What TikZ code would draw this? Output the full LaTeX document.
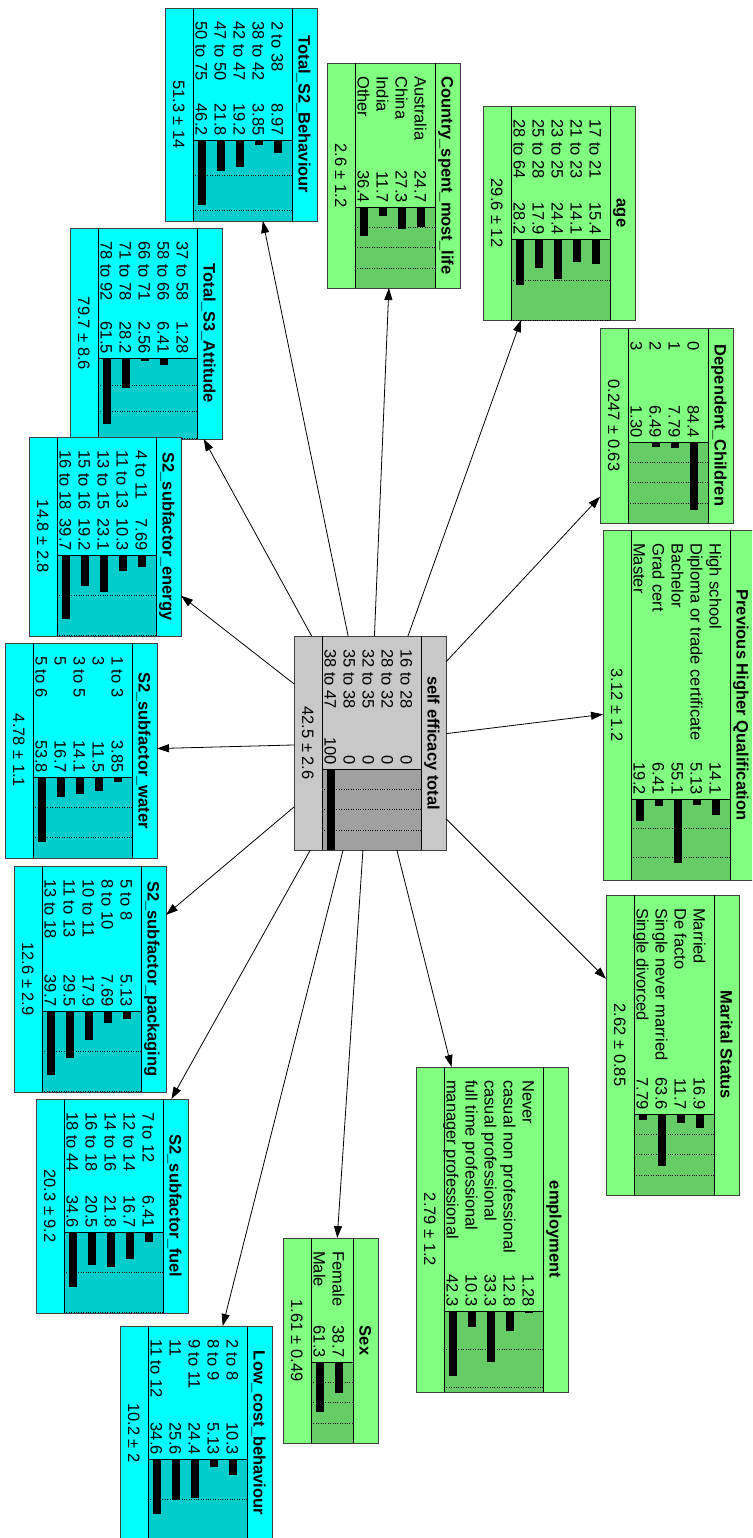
\documentclass[tikz,border=0pt]{standalone}
\usepackage{fontspec}
\setmainfont{Liberation Sans}
\usepackage{tikz}
\usetikzlibrary{arrows.meta}
\usetikzlibrary{positioning}

\definecolor{cyfill}{HTML}{00FFFF}
\definecolor{cybar}{HTML}{00CCCC}
\definecolor{grfill}{HTML}{80FF80}
\definecolor{grbar}{HTML}{66CC66}
\definecolor{gyfill}{HTML}{C8C8C8}
\definecolor{gybar}{HTML}{A0A0A0}

% belief box, turned a quarter turn: name, (right,top), length, rows, px per %, colour, title, mean, states
\newcommand{\netbox}[9]{%
  \pgfmathsetmacro\bh{57+19*#4}%
  \pgfmathsetmacro\ba{#3-81}%
  \node[box node, fill=#6fill, minimum width=\bh, minimum height=#3, anchor=north east] (#1) at #2 {};
  \begin{scope}[shift={#2}]
    \fill[#6bar] (-\bh+28,\ba) rectangle (-25,#3);
    \begin{scope}
      \clip (-\bh+28,\ba) rectangle (-25,#3);
      \foreach \k in {25,50,75}
        \draw[dotted] (-\bh+28,\ba+#5*\k) -- (-25,\ba+#5*\k);
    \end{scope}
    \draw[band line] (-\bh+28,\ba) -- (-25,\ba);
    \draw[band line] (-25,0) -- (-25,#3);
    \draw[band line] (-\bh+28,0) -- (-\bh+28,#3);
    \node[title text] (#1-t) at (-12.5,#3/2) {#7};
    \node[plain text] (#1-m) at (-\bh+14,#3/2) {#8};
    \foreach \lab/\p [count=\i] in {#9} {
      \node[plain text, anchor=west] (#1-l\i) at (-20.5-19*\i,13) {\lab};
      \node[plain text, anchor=east] (#1-p\i) at (-20.5-19*\i,\ba-4) {\p};
      \fill (-24.5-19*\i,\ba) rectangle (-16.5-19*\i,\ba+#5*\p);
    }
  \end{scope}
}

\begin{document}
\begin{tikzpicture}[x=1pt,y=-1pt,>={Triangle[length=12pt,width=8pt]},
    box node/.style={draw=black!75, line width=0.8pt, inner sep=0pt, outer sep=0pt},
    band line/.style={draw=black, line width=0.8pt},
    plain text/.style={rotate=-90, inner sep=0pt, font=\fontsize{16.5}{19}\selectfont, text height=11.9pt, text depth=0pt},
    title text/.style={plain text, font=\fontsize{16.5}{19}\selectfont\bfseries}]

  \useasboundingbox (0,0) rectangle (752,1538);
  \clip (0,0) rectangle (752,1538);

  \netbox{seff}{(446,636)}{214}{5}{0.81}{gy}{self efficacy total}{42.5 ± 2.6}
    {16 to 28/0, 28 to 32/0, 32 to 35/0, 35 to 38/0, 38 to 47/100}
  \netbox{tsb}{(317,8)}{213}{5}{1.41}{cy}{Total\_S2\_Behaviour}{51.3 ± 14}
    {2 to 38/8.97, 38 to 42/3.85, 42 to 47/19.2, 47 to 50/21.8, 50 to 75/46.2}
  \netbox{att}{(222,228)}{211}{5}{1.07}{cy}{Total\_S3\_Attitude}{79.7 ± 8.6}
    {37 to 58/1.28, 58 to 66/6.41, 66 to 71/2.56, 71 to 78/28.2, 78 to 92/61.5}
  \netbox{ene}{(181,437)}{199}{5}{1.6}{cy}{S2\_subfactor\_energy}{14.8 ± 2.8}
    {4 to 11/7.69, 11 to 13/10.3, 13 to 15/23.1, 15 to 16/19.2, 16 to 18/39.7}
  \netbox{wat}{(157,643)}{215}{5}{1.2}{cy}{S2\_subfactor\_water}{4.78 ± 1.1}
    {1 to 3/3.85, 3/11.5, 3 to 5/14.1, 5/16.7, 5 to 6/53.8}
  \netbox{pack}{(166,866)}{226}{5}{1.6}{cy}{S2\_subfactor\_packaging}{12.6 ± 2.9}
    {5 to 8/5.13, 8 to 10/7.69, 10 to 11/17.9, 11 to 13/29.5, 13 to 18/39.7}
  \netbox{fuel}{(188,1099)}{214}{5}{1.6}{cy}{S2\_subfactor\_fuel}{20.3 ± 9.2}
    {7 to 12/6.41, 12 to 14/16.7, 14 to 16/21.8, 16 to 18/20.5, 18 to 44/34.6}
  \netbox{lcb}{(272,1326)}{214}{5}{1.6}{cy}{Low\_cost\_behaviour}{10.2 ± 2}
    {2 to 8/10.3, 8 to 9/5.13, 9 to 11/24.4, 11/25.6, 11 to 12/34.6}
  \netbox{sex}{(378,1238)}{205}{2}{0.81}{gr}{Sex}{1.61 ± 0.49}
    {Female/38.7, Male/61.3}
  \netbox{emp}{(568,1067)}{325}{5}{1.53}{gr}{employment}{2.79 ± 1.2}
    {Never/1.28, casual non professional/12.8, casual professional/33.3, full time professional/10.3, manager professional/42.3}
  \netbox{mar}{(739,895)}{300}{4}{0.81}{gr}{Marital Status}{2.62 ± 0.85}
    {Married/16.9, De facto/11.7, Single never married/63.6, Single divorced/7.79}
  \netbox{phq}{(755,530)}{350}{5}{1.16}{gr}{Previous Higher Qualification}{3.12 ± 1.2}
    {High school/14.1, Diploma or trade certificate/5.13, Bachelor/55.1, Grad cert/6.41, Master/19.2}
  \netbox{dep}{(733,328)}{195}{4}{0.81}{gr}{Dependent\_Children}{0.247 ± 0.63}
    {0/84.4, 1/7.79, 2/6.49, 3/1.30}
  \netbox{age}{(635,106)}{214}{5}{1.63}{gr}{age}{29.6 ± 12}
    {17 to 21/15.4, 21 to 23/14.1, 23 to 25/24.4, 25 to 28/17.9, 28 to 64/28.2}
  \netbox{csm}{(460,63)}{225}{4}{0.81}{gr}{Country\_spent\_most\_life}{2.6 ± 1.2}
    {Australia/24.7, China/27.3, India/11.7, Other/36.4}

  \path[->, line width=0.8pt]
    (seff) edge (tsb)
    (seff) edge (csm)
    (seff) edge (age)
    (seff) edge (dep)
    (seff) edge (phq)
    (seff) edge (mar)
    (seff) edge (emp)
    (seff) edge (sex)
    (seff) edge (lcb)
    (seff) edge (fuel)
    (seff) edge (pack)
    (seff) edge (wat)
    (seff) edge (ene)
    (seff) edge (att);
\end{tikzpicture}
\end{document}
